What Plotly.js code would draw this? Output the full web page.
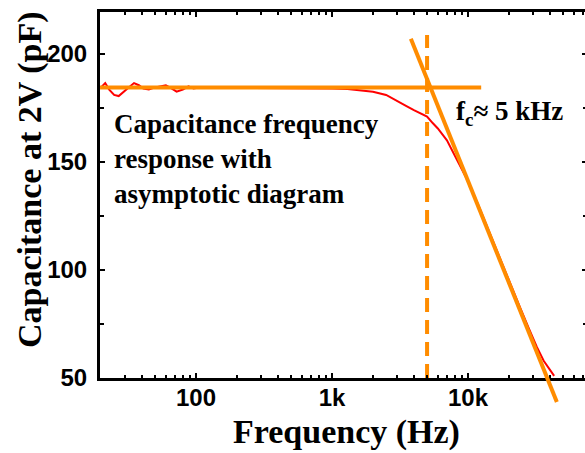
<!DOCTYPE html>
<html><head><meta charset="utf-8">
<script src="https://cdn.plot.ly/plotly-3.0.1.min.js"></script>
<style>html,body{margin:0;padding:0;overflow:hidden;background:#fff;}</style>
</head><body>
<div id="chart" style="width:590px;height:453px;"></div>
<script>
// Measured capacitance (red curve)
const freqHz = [20, 21.5, 23, 25, 27, 29, 32, 35, 38, 41, 45, 50, 55, 60, 66, 72, 80, 88, 96, 105,
  150, 250, 400, 600, 800, 1000, 1300, 1600, 2000, 2500, 3000, 3500, 4000, 4500, 5000, 5500, 6000,
  7000, 8000, 9000, 10000, 12000, 14000, 17000, 20000, 24000, 28000, 32000, 36000, 40000, 43000];
const capPF = [184.5, 186.5, 183.5, 181, 180.5, 182, 184.5, 186.5, 185.5, 184, 183.5, 184.5, 185, 185.5, 184, 182.5, 183.5, 185, 184, 184.5,
  184.3, 184.3, 184.3, 184.3, 184.2, 184, 183.8, 183.3, 182.5, 181, 178.5, 176, 174, 172.5, 171, 168, 165.5,
  160, 153, 147, 141, 129.5, 119, 106, 95, 83, 73, 64.5, 58, 53.5, 51];
// Asymptotes
const flatFreq = [19.7, 12500];
const flatCap = [184.5, 184.5];
const slopeFreq = [3800, 45000];
const slopeCap = [207, 38.9];
const cornerFreq = [5000, 5000];
const cornerCap = [50, 208.8];
// Axis ticks
const xTickVals = [100, 1000, 10000];
const xTickText = ['100', '1k', '10k'];
const yTickVals = [50, 100, 150, 200];

const orange = '#ff8c00';
const xRange = [1.294, 4.875];
const yRange = [50, 219.4];

const traces = [
  {x: freqHz, y: capPF, mode: 'lines', line: {color: '#ff0000', width: 2}, xaxis: 'x', yaxis: 'y', hoverinfo: 'skip'},
  {x: flatFreq, y: flatCap, mode: 'lines', line: {color: orange, width: 4}, xaxis: 'x', yaxis: 'y'},
  {x: cornerFreq, y: cornerCap, mode: 'lines', line: {color: orange, width: 4, dash: '14px,8px'}, xaxis: 'x', yaxis: 'y'},
  {x: slopeFreq, y: slopeCap, mode: 'lines', line: {color: orange, width: 4}, xaxis: 'x2', yaxis: 'y2'}
];

const tickFont = {family: 'Liberation Sans, Arial, sans-serif', size: 24, color: '#000', weight: 'bold'};
const serif = 'Liberation Serif, Times New Roman, serif';

const layout = {
  width: 590, height: 453,
  margin: {l: 100, r: 3, t: 12, b: 43},
  paper_bgcolor: '#fff', plot_bgcolor: 'rgba(0,0,0,0)',
  showlegend: false,
  xaxis: {
    type: 'log', range: xRange, domain: [0, 1], anchor: 'y',
    showline: true, linecolor: '#000', linewidth: 3, mirror: 'ticks',
    ticks: 'inside', ticklen: 5, tickwidth: 2, tickcolor: '#000',
    tickmode: 'array', tickvals: xTickVals, ticktext: xTickText,
    tickfont: tickFont, ticklabelstandoff: -4,
    minor: {ticks: 'inside', ticklen: 3, tickwidth: 2, tickcolor: '#000', dtick: 'D1', showgrid: false},
    showgrid: false, zeroline: false, automargin: false
  },
  yaxis: {
    range: yRange, domain: [32/398, 1], anchor: 'x',
    showline: true, linecolor: '#000', linewidth: 3, mirror: 'ticks',
    ticks: 'inside', ticklen: 5, tickwidth: 2, tickcolor: '#000',
    tickmode: 'array', tickvals: yTickVals,
    tickfont: tickFont, ticklabelstandoff: 5,
    minor: {ticks: 'inside', ticklen: 4, tickwidth: 2, tickcolor: '#000', dtick: 25, tick0: 0, showgrid: false},
    showgrid: false, zeroline: false, automargin: false
  },
  xaxis2: {type: 'log', range: xRange, domain: [0, 1], anchor: 'y2', visible: false},
  yaxis2: {range: [50 - 32/108*50, 219.4], domain: [0, 1], anchor: 'x2', visible: false},
  annotations: [
    {text: 'Frequency (Hz)', xref: 'paper', yref: 'paper', x: (346-100)/487, y: (410-432)/398, xanchor: 'center', yanchor: 'middle',
     showarrow: false, font: {family: serif, size: 34, color: '#000', weight: 'bold'}},
    {text: 'Capacitance at 2V (pF)', xref: 'paper', yref: 'paper', x: (30-100)/487, y: (410-180)/398, xanchor: 'center', yanchor: 'middle',
     textangle: -90, showarrow: false, font: {family: serif, size: 34, color: '#000', weight: 'bold'}},
    {text: 'Capacitance frequency<br>response with<br>asymptotic diagram', xref: 'paper', yref: 'paper',
     x: 0.024, y: (410-107)/398, xanchor: 'left', yanchor: 'top', align: 'left', showarrow: false,
     font: {family: serif, size: 27, color: '#000', weight: 'bold'}},
    {text: 'f<sub>c</sub>≈ 5 kHz', xref: 'paper', yref: 'paper',
     x: (454-100)/487, y: (410-113)/398, xanchor: 'left', yanchor: 'middle', align: 'left', showarrow: false,
     font: {family: serif, size: 27, color: '#000', weight: 'bold'}}
  ]
};

Plotly.newPlot('chart', traces, layout, {staticPlot: true, displayModeBar: false});
</script>
</body></html>
